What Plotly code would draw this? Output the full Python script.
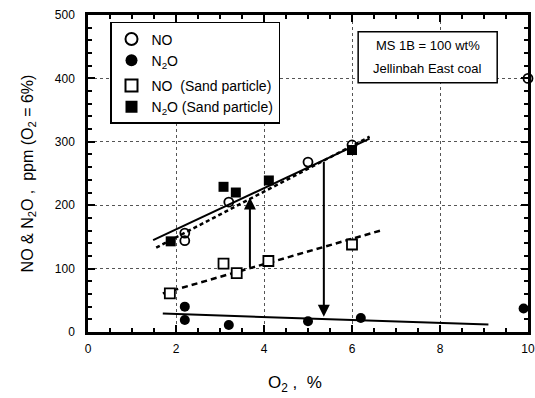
import plotly.graph_objects as go

# ---- data ----
no_x = [2.2, 2.2, 3.2, 5.0, 6.0, 10.0]
no_y = [156, 144, 205, 268, 295, 400]
n2o_x = [2.2, 2.2, 3.2, 5.0, 6.2, 9.9]
n2o_y = [40, 19, 11, 17, 22, 37]
no_sand_x = [1.86, 3.08, 3.38, 4.1, 6.0]
no_sand_y = [61, 108, 93, 112, 138]
n2o_sand_x = [1.88, 3.08, 3.36, 4.11, 6.0]
n2o_sand_y = [143, 229, 220, 239, 287]

# fit lines (end points)
fit_no_x = [1.55, 6.4]
fit_no_y = [133, 308]
fit_n2o_x = [1.7, 9.1]
fit_n2o_y = [29, 12]
fit_no_sand_x = [1.7, 6.7]
fit_no_sand_y = [61, 161]
fit_n2o_sand_x = [1.48, 6.4]
fit_n2o_sand_y = [145, 305]

# arrows: (x, y_from, y_to)
arrows = [(3.68, 100, 212), (5.36, 271, 24)]

legend_names = ["NO", "N<sub>2</sub>O", "NO  (Sand particle)", "N<sub>2</sub>O (Sand particle)"]
box_lines = ["MS 1B = 100 wt%", "Jellinbah East coal"]

FONT = "Liberation Sans, Arial, Helvetica, sans-serif"

fig = go.Figure()

# fit lines
fig.add_trace(go.Scatter(x=fit_no_x, y=fit_no_y, mode="lines", showlegend=False,
                         line=dict(color="black", width=2.5, dash="4px,3px")))
fig.add_trace(go.Scatter(x=fit_n2o_sand_x, y=fit_n2o_sand_y, mode="lines", showlegend=False,
                         line=dict(color="black", width=2)))
fig.add_trace(go.Scatter(x=fit_no_sand_x, y=fit_no_sand_y, mode="lines", showlegend=False,
                         line=dict(color="black", width=2.5, dash="6px,4px")))
fig.add_trace(go.Scatter(x=fit_n2o_x, y=fit_n2o_y, mode="lines", showlegend=False,
                         line=dict(color="black", width=2)))

# data
fig.add_trace(go.Scatter(x=no_x, y=no_y, mode="markers", name=legend_names[0], legendgroup="a",
                         cliponaxis=False,
                         marker=dict(symbol="circle-open", size=9, color="black", line=dict(width=1.8))))
fig.add_trace(go.Scatter(x=n2o_x, y=n2o_y, mode="markers", name=legend_names[1], legendgroup="a",
                         cliponaxis=False,
                         marker=dict(symbol="circle", size=10, color="black")))
fig.add_trace(go.Scatter(x=no_sand_x, y=no_sand_y, mode="markers", name=legend_names[2], legendgroup="b",
                         cliponaxis=False,
                         marker=dict(symbol="square", size=10, color="white", line=dict(width=1.8, color="black"))))
fig.add_trace(go.Scatter(x=n2o_sand_x, y=n2o_sand_y, mode="markers", name=legend_names[3], legendgroup="b",
                         cliponaxis=False,
                         marker=dict(symbol="square", size=10, color="black")))

for ax, y0, y1 in arrows:
    fig.add_annotation(x=ax, y=y1, ax=ax, ay=y0, xref="x", yref="y", axref="x", ayref="y",
                       showarrow=True, arrowhead=2, arrowsize=1.2, arrowwidth=2, arrowcolor="black", text="")

# info box (plot area: x 88..528, y 15..332)
fig.add_shape(type="rect", xref="paper", yref="paper", x0=0.614, x1=0.93, y0=0.786, y1=0.947,
              line=dict(color="black", width=1.5), fillcolor="white", layer="above")
fig.add_annotation(x=0.772, y=0.905, xref="paper", yref="paper", text=box_lines[0], showarrow=False,
                   xanchor="center", yanchor="middle",
                   font=dict(family=FONT, size=13, color="black"))
fig.add_annotation(x=0.772, y=0.83, xref="paper", yref="paper", text=box_lines[1], showarrow=False,
                   xanchor="center", yanchor="middle",
                   font=dict(family=FONT, size=13, color="black"))

# x axis title
fig.add_annotation(x=0.47, y=-0.165, xref="paper", yref="paper", text="O<sub>2</sub> ,  %", showarrow=False,
                   xanchor="center", yanchor="middle",
                   font=dict(family=FONT, size=17, color="black"))

axis_common = dict(showline=True, linecolor="black", linewidth=2.5, mirror="allticks",
                   ticks="inside", ticklen=7, tickwidth=1.5, tickcolor="black",
                   showgrid=True, gridcolor="#555", griddash="dot", gridwidth=1,
                   zeroline=False, automargin=False,
                   tickfont=dict(family=FONT, size=12, color="black"))

fig.update_xaxes(range=[0, 10], tickvals=[0, 2, 4, 6, 8, 10], ticklabelstandoff=4,
                 minor=dict(dtick=0.5, tick0=0, ticks="inside", ticklen=4, tickcolor="black", showgrid=False),
                 **axis_common)
fig.update_yaxes(range=[0, 500], tickvals=[0, 100, 200, 300, 400, 500], ticklabelstandoff=8,
                 minor=dict(dtick=20, tick0=0, ticks="inside", ticklen=4, tickcolor="black", showgrid=False),
                 title=dict(text="NO &amp; N<sub>2</sub>O ,  ppm (O<sub>2</sub> = 6%)",
                            font=dict(family=FONT, size=16, color="black"), standoff=18),
                 **axis_common)

fig.update_layout(
    width=535, height=398,
    margin=dict(l=88, r=7, t=15, b=66),
    paper_bgcolor="white", plot_bgcolor="white",
    font=dict(family=FONT, size=12, color="black"),
    legend=dict(x=0.05, y=0.978, xanchor="left", yanchor="top",
                bgcolor="white", bordercolor="black", borderwidth=1.5,
                font=dict(family=FONT, size=14, color="black"),
                tracegroupgap=4, itemsizing="constant", itemwidth=30),
)

fig.write_html("out.html")
